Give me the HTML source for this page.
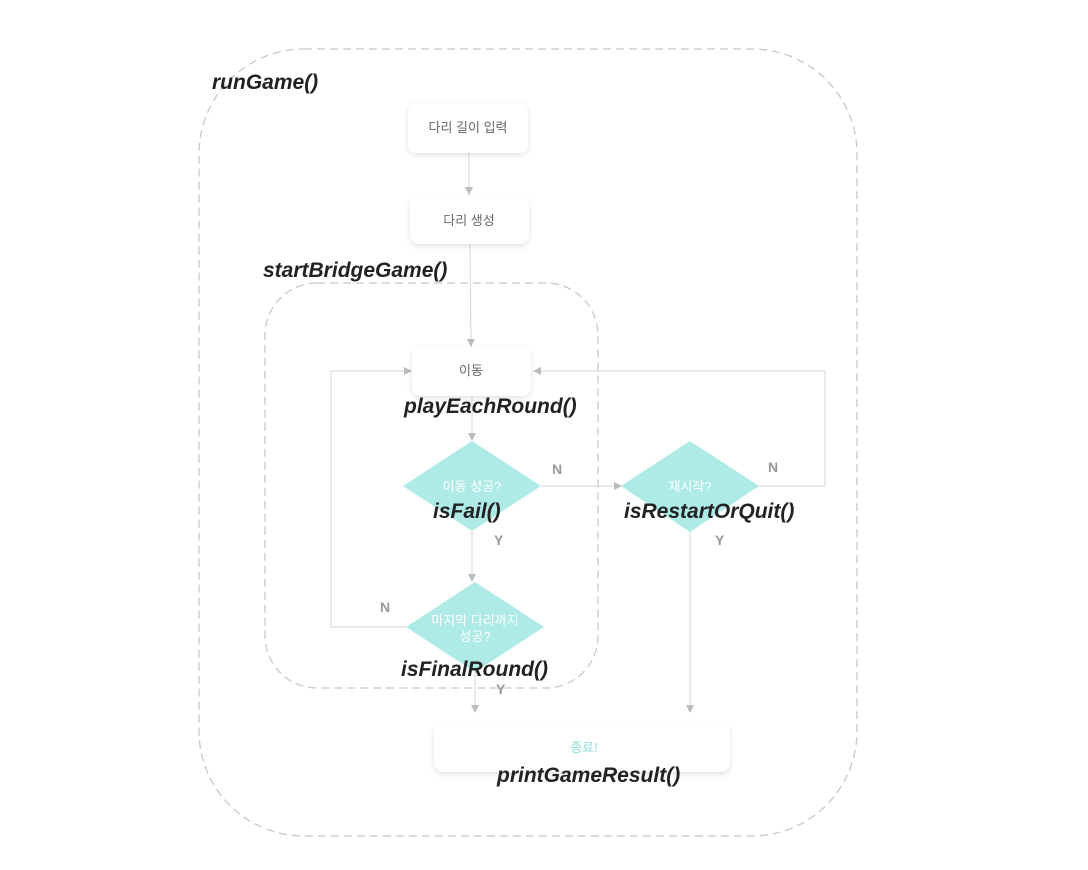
<!DOCTYPE html>
<html><head><meta charset="utf-8"><style>
html,body{margin:0;padding:0;background:#fff;}
svg{display:block;}
.k{font-family:"Liberation Sans","Noto Sans CJK KR",sans-serif;font-size:13px;}
.f{font-family:"Liberation Sans",sans-serif;font-size:21px;font-style:italic;font-weight:bold;fill:#222;}
.yn{font-family:"Liberation Sans",sans-serif;font-size:14px;fill:#999;font-weight:bold;}
</style></head><body>
<svg width="1088" height="870" viewBox="0 0 1088 870" xmlns="http://www.w3.org/2000/svg">
<defs>
<marker id="a" markerWidth="8" markerHeight="8" refX="7" refY="4" orient="auto" markerUnits="userSpaceOnUse"><path d="M0,0 L8,4 L0,8 z" fill="#bbb"/></marker>
<filter id="s" x="-20%" y="-30%" width="140%" height="170%"><feDropShadow dx="0" dy="2" stdDeviation="3" flood-color="#000" flood-opacity="0.12"/></filter>
</defs>
<rect x="199" y="49" width="658" height="787" rx="105" fill="none" stroke="#c8c8c8" stroke-width="1.3" stroke-dasharray="8,5"/>
<rect x="265" y="283" width="333" height="405" rx="52" fill="none" stroke="#c8c8c8" stroke-width="1.3" stroke-dasharray="8,5"/>
<g stroke="#ddd" stroke-width="1.2" fill="none">
<line x1="469" y1="153" x2="469" y2="194" marker-end="url(#a)"/>
<line x1="470" y1="244" x2="471" y2="346" marker-end="url(#a)"/>
<line x1="472" y1="396" x2="472" y2="440" marker-end="url(#a)"/>
<line x1="472" y1="531" x2="472" y2="581" marker-end="url(#a)"/>
<line x1="541" y1="486" x2="621" y2="486" marker-end="url(#a)"/>
<polyline points="759,486 825,486 825,371 534,371" marker-end="url(#a)"/>
<polyline points="406,627 331,627 331,371 411,371" marker-end="url(#a)"/>
<line x1="475" y1="672" x2="475" y2="712" marker-end="url(#a)"/>
<line x1="690" y1="531" x2="690" y2="712" marker-end="url(#a)"/>
</g>
<g filter="url(#s)" fill="#fff">
<rect x="408" y="103" width="120" height="50" rx="9"/>
<rect x="410" y="196" width="119" height="48" rx="9"/>
<rect x="412" y="347" width="119" height="49" rx="9"/>
<rect x="434" y="724" width="296" height="48" rx="10"/>
</g>
<polygon points="472,441 541,486 472,531 403,486" fill="#aeeae6"/>
<polygon points="690,441 759,486 690,532 621,486" fill="#aeeae6"/>
<polygon points="475,582 544,627 475,672 406,627" fill="#aeeae6"/>
<g class="k" text-anchor="middle">
<text x="468" y="132" fill="#666">다리 길이 입력</text>
<text x="469" y="225" fill="#666">다리 생성</text>
<text x="471" y="375" fill="#666">이동</text>
<text x="472" y="491" fill="#fff">이동 성공?</text>
<text x="690" y="491" fill="#fff">재시작?</text>
<text x="475" y="625" fill="#fff">마지막 다리까지</text>
<text x="475" y="641" fill="#fff">성공?</text>
<text x="584" y="752" fill="#8fe0dc">종료!</text>
</g>
<g class="yn">
<text x="552" y="474">N</text>
<text x="768" y="472">N</text>
<text x="380" y="612">N</text>
<text x="494" y="545">Y</text>
<text x="715" y="545">Y</text>
<text x="496" y="694">Y</text>
</g>
<g class="f">
<text x="212" y="89">runGame()</text>
<text x="263" y="277">startBridgeGame()</text>
<text x="404" y="413">playEachRound()</text>
<text x="433" y="518">isFail()</text>
<text x="624" y="518">isRestartOrQuit()</text>
<text x="401" y="676">isFinalRound()</text>
<text x="497" y="782">printGameResult()</text>
</g>
</svg>
</body></html>
